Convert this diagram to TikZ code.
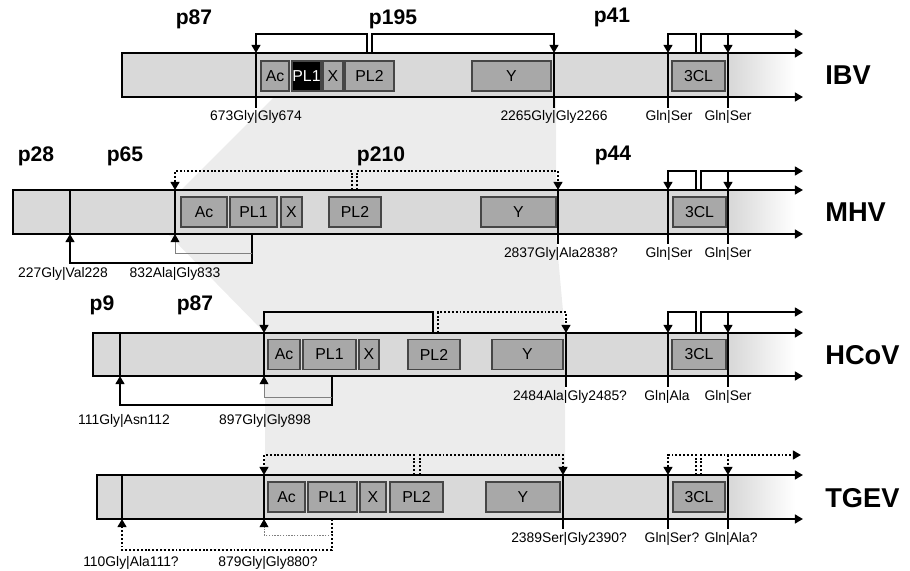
\documentclass[tikz,border=0pt]{standalone}
\usepackage{fontspec}
\setmainfont{Liberation Sans}
\usetikzlibrary{arrows.meta}
\definecolor{barfill}{RGB}{217,217,217}
\definecolor{bandfill}{RGB}{236,236,236}
\definecolor{domfill}{RGB}{168,168,168}
\definecolor{domline}{RGB}{70,70,70}
\begin{document}
\begin{tikzpicture}[
    x=0.02cm, y=-0.02cm,
    >={Triangle[length=4.6pt,width=5pt]},
    bar/.style={line width=1.4pt},
    cut/.style={line width=1.3pt},
    brk/.style={line width=1.1pt},
    dbrk/.style={line width=1.1pt, dash pattern=on 1.1pt off 1.1pt},
    thin/.style={line width=0.5pt, draw=black!50},
    thinarr/.style={-{Triangle[length=4.6pt,width=5pt,color=black]}},
    dom/.style={
        rectangle, draw=domline, fill=domfill, line width=0.8pt,
        minimum height=6mm, inner sep=0pt,
        font=\fontsize{9}{10}\selectfont
    },
    site/.style={
        anchor=base, inner xsep=0pt, inner ysep=1pt,
        text height=6pt, text depth=1.7pt,
        font=\fontsize{7.9}{9}\selectfont
    },
    prot/.style={font=\fontsize{12}{14}\selectfont\bfseries, inner sep=0pt},
    virus/.style={anchor=west, font=\fontsize{15.5}{18}\selectfont\bfseries, inner sep=0pt},
]
\useasboundingbox (0,0) rectangle (910,571);

% ── Shared region band ───────────────────────────────────────
\fill[bandfill] (274,97) -- (556,97) -- (556,234) -- (565,333) -- (565,475)
    -- (265,475) -- (265,333) -- (168,234) -- (181,190) -- cycle;

% ── Bars ─────────────────────────────────────────────────────
\fill[barfill] (122,53) rectangle (732,97);
\shade[left color=barfill, right color=white] (732,53) rectangle (795,97);
\fill[barfill] (13,190) rectangle (732,234);
\shade[left color=barfill, right color=white] (732,190) rectangle (795,234);
\fill[barfill] (93,333) rectangle (732,376);
\shade[left color=barfill, right color=white] (732,333) rectangle (795,376);
\fill[barfill] (97,475) rectangle (732,519);
\shade[left color=barfill, right color=white] (732,475) rectangle (795,519);

% ── IBV ──────────────────────────────────────────────────────
\coordinate (ibvTL) at (122,53);  \coordinate (ibvBL) at (122,97);
\coordinate (ibvTE) at (803,53);  \coordinate (ibvBE) at (803,97);
\coordinate (ibvUp) at (0,34);    \coordinate (ibvUE) at (803,34);
\coordinate (ibvS1) at (256,53);  \coordinate (ibvS2) at (554,53);
\coordinate (ibvS3) at (668,53);  \coordinate (ibvS4) at (728,53);
\coordinate (ibvK1) at (367,53);  \coordinate (ibvK2) at (372,53);
\coordinate (ibvK3) at (696,53);  \coordinate (ibvK4) at (701,53);

\draw[bar,<->] (ibvTE) -- (ibvTL) -- (ibvBL) -- (ibvBE);

\node[dom, minimum width=5.6mm]  (ibvAc)  at (275,76)   {Ac};
\node[dom, minimum width=5.8mm, fill=black, text=white] (ibvPL1) at (306.5,76) {PL1};
\node[dom, minimum width=4mm]    (ibvX)   at (333,76)   {X};
\node[dom, minimum width=9.8mm]  (ibvPL2) at (369.5,76) {PL2};
\node[dom, minimum width=15.8mm] (ibvY)   at (511.5,76) {Y};
\node[dom, minimum width=10.6mm] (ibv3CL) at (698.5,76) {3CL};

\node[site] (ibvL1) at (256,121) {673Gly|Gly674};
\node[site] (ibvL2) at (554,121) {2265Gly|Gly2266};
\node[site] (ibvL3) at (669,121) {Gln|Ser};
\node[site] (ibvL4) at (728,121) {Gln|Ser};

\draw[cut] (ibvS1) -- (ibvS1 |- ibvL1.north);
\draw[cut] (ibvS2) -- (ibvS2 |- ibvL2.north);
\draw[cut] (ibvS3) -- (ibvS3 |- ibvL3.north);
\draw[cut] (ibvS4) -- (ibvS4 |- ibvL4.north);

\draw[brk,->] (ibvK1) -- (ibvK1 |- ibvUp) -| (ibvS1);
\draw[brk,->] (ibvK2) -- (ibvK2 |- ibvUp) -| (ibvS2);
\draw[brk,->] (ibvK3) -- (ibvK3 |- ibvUp) -| (ibvS3);
\draw[brk,->] (ibvK4) -- (ibvK4 |- ibvUp) -- (ibvUE);
\draw[brk,->] (ibvS4 |- ibvUp) -- (ibvS4);

\node[prot] (ibvP87)  at (194,19) {p87};
\node[prot] (ibvP195) at (393,19) {p195};
\node[prot] (ibvP41)  at (612,17) {p41};
\node[virus] (ibvName) at (825,75) {IBV};

% ── MHV ──────────────────────────────────────────────────────
\coordinate (mhvTL) at (13,190);  \coordinate (mhvBL) at (13,234);
\coordinate (mhvTE) at (803,190); \coordinate (mhvBE) at (803,234);
\coordinate (mhvUp) at (0,171);   \coordinate (mhvUE) at (803,171);
\coordinate (mhvS1) at (70,190);  \coordinate (mhvS2) at (175,190);
\coordinate (mhvS3) at (558,190); \coordinate (mhvS4) at (668,190);
\coordinate (mhvS5) at (728,190);
\coordinate (mhvK1) at (352,190); \coordinate (mhvK2) at (357,190);
\coordinate (mhvK3) at (696,190); \coordinate (mhvK4) at (701,190);
\coordinate (mhvB1) at (70,234);  \coordinate (mhvB2) at (175,234);
\coordinate (mhvPL) at (252,234);
\coordinate (mhvDn) at (0,263);   \coordinate (mhvDt) at (0,253);

\draw[bar,<->] (mhvTE) -- (mhvTL) -- (mhvBL) -- (mhvBE);

\node[dom, minimum width=9.2mm]  (mhvAc)  at (204,212)   {Ac};
\node[dom, minimum width=9.4mm]  (mhvPL1) at (253.5,212) {PL1};
\node[dom, minimum width=4.2mm]  (mhvX)   at (291.5,212) {X};
\node[dom, minimum width=10.4mm] (mhvPL2) at (355,212)   {PL2};
\node[dom, minimum width=15mm]   (mhvY)   at (518.5,212) {Y};
\node[dom, minimum width=10.6mm] (mhv3CL) at (699.5,212) {3CL};

\node[site] (mhvL1) at (63,277)  {227Gly|Val228};
\node[site] (mhvL2) at (175,277) {832Ala|Gly833};
\node[site] (mhvL3) at (561,257) {2837Gly|Ala2838?};
\node[site] (mhvL4) at (669,257) {Gln|Ser};
\node[site] (mhvL5) at (728,257) {Gln|Ser};

\draw[cut] (mhvS1) -- (mhvB1);
\draw[cut] (mhvS2) -- (mhvB2);
\draw[cut] (mhvS3) -- (mhvS3 |- mhvL3.north);
\draw[cut] (mhvS4) -- (mhvS4 |- mhvL4.north);
\draw[cut] (mhvS5) -- (mhvS5 |- mhvL5.north);

\draw[dbrk,->] (mhvK1) -- (mhvK1 |- mhvUp) -| (mhvS2);
\draw[dbrk,->] (mhvK2) -- (mhvK2 |- mhvUp) -| (mhvS3);
\draw[brk,->] (mhvK3) -- (mhvK3 |- mhvUp) -| (mhvS4);
\draw[brk,->] (mhvK4) -- (mhvK4 |- mhvUp) -- (mhvUE);
\draw[brk,->] (mhvS5 |- mhvUp) -- (mhvS5);

\draw[brk,->] (mhvPL) -- (mhvPL |- mhvDn) -| (mhvB1);
\draw[thin,thinarr] (mhvPL |- mhvDt) -| (mhvB2);

\node[prot] (mhvP28)  at (36,156)  {p28};
\node[prot] (mhvP65)  at (125,156) {p65};
\node[prot] (mhvP210) at (381,156) {p210};
\node[prot] (mhvP44)  at (613,155) {p44};
\node[virus] (mhvName) at (825,212) {MHV};

% ── HCoV ─────────────────────────────────────────────────────
\coordinate (hcovTL) at (93,333);  \coordinate (hcovBL) at (93,376);
\coordinate (hcovTE) at (803,333); \coordinate (hcovBE) at (803,376);
\coordinate (hcovUp) at (0,312);   \coordinate (hcovUE) at (803,312);
\coordinate (hcovS1) at (120,333); \coordinate (hcovS2) at (264,333);
\coordinate (hcovS3) at (566,333); \coordinate (hcovS4) at (668,333);
\coordinate (hcovS5) at (728,333);
\coordinate (hcovK1) at (433,333); \coordinate (hcovK2) at (438,333);
\coordinate (hcovK3) at (696,333); \coordinate (hcovK4) at (701,333);
\coordinate (hcovB1) at (120,376); \coordinate (hcovB2) at (264,376);
\coordinate (hcovPL) at (332,376);
\coordinate (hcovDn) at (0,405);   \coordinate (hcovDt) at (0,397);

\draw[bar,<->] (hcovTE) -- (hcovTL) -- (hcovBL) -- (hcovBE);

\node[dom, minimum width=6.4mm]  (hcovAc)  at (284,354.5)   {Ac};
\node[dom, minimum width=10.6mm] (hcovPL1) at (329.5,354.5) {PL1};
\node[dom, minimum width=4mm]    (hcovX)   at (369,354.5)   {X};
\node[dom, minimum width=10.4mm] (hcovPL2) at (434,354.5)   {PL2};
\node[dom, minimum width=14.2mm] (hcovY)   at (527.5,354.5) {Y};
\node[dom, minimum width=10.8mm] (hcov3CL) at (699,354.5)   {3CL};

\node[site] (hcovL1) at (124,424) {111Gly|Asn112};
\node[site] (hcovL2) at (265,424) {897Gly|Gly898};
\node[site] (hcovL3) at (570,400) {2484Ala|Gly2485?};
\node[site] (hcovL4) at (667,400) {Gln|Ala};
\node[site] (hcovL5) at (728,400) {Gln|Ser};

\draw[cut] (hcovS1) -- (hcovB1);
\draw[cut] (hcovS2) -- (hcovB2);
\draw[cut] (hcovS3) -- (hcovS3 |- hcovL3.north);
\draw[cut] (hcovS4) -- (hcovS4 |- hcovL4.north);
\draw[cut] (hcovS5) -- (hcovS5 |- hcovL5.north);

\draw[brk,->] (hcovK1) -- (hcovK1 |- hcovUp) -| (hcovS2);
\draw[dbrk,->] (hcovK2) -- (hcovK2 |- hcovUp) -| (hcovS3);
\draw[brk,->] (hcovK3) -- (hcovK3 |- hcovUp) -| (hcovS4);
\draw[brk,->] (hcovK4) -- (hcovK4 |- hcovUp) -- (hcovUE);
\draw[brk,->] (hcovS5 |- hcovUp) -- (hcovS5);

\draw[brk,->] (hcovPL) -- (hcovPL |- hcovDn) -| (hcovB1);
\draw[thin,thinarr] (hcovPL |- hcovDt) -| (hcovB2);

\node[prot] (hcovP9)  at (102,305) {p9};
\node[prot] (hcovP87) at (195,305) {p87};
\node[virus] (hcovName) at (825,355) {HCoV};

% ── TGEV ─────────────────────────────────────────────────────
\coordinate (tgevTL) at (97,475);  \coordinate (tgevBL) at (97,519);
\coordinate (tgevTE) at (803,475); \coordinate (tgevBE) at (803,519);
\coordinate (tgevUp) at (0,455);   \coordinate (tgevUE) at (801,455);
\coordinate (tgevS1) at (122,475); \coordinate (tgevS2) at (264,475);
\coordinate (tgevS3) at (563,475); \coordinate (tgevS4) at (668,475);
\coordinate (tgevS5) at (728,475);
\coordinate (tgevK1) at (414,475); \coordinate (tgevK2) at (420,475);
\coordinate (tgevK3) at (696,475); \coordinate (tgevK4) at (701,475);
\coordinate (tgevB1) at (122,519); \coordinate (tgevB2) at (264,519);
\coordinate (tgevPL) at (332,519);
\coordinate (tgevDn) at (0,550);   \coordinate (tgevDt) at (0,535);

\draw[bar,<->] (tgevTE) -- (tgevTL) -- (tgevBL) -- (tgevBE);

\node[dom, minimum width=7.4mm]  (tgevAc)  at (286.5,497) {Ac};
\node[dom, minimum width=9.8mm]  (tgevPL1) at (332.5,497) {PL1};
\node[dom, minimum width=5.2mm]  (tgevX)   at (373,497)   {X};
\node[dom, minimum width=10.6mm] (tgevPL2) at (416.5,497) {PL2};
\node[dom, minimum width=14.8mm] (tgevY)   at (523,497)   {Y};
\node[dom, minimum width=10.4mm] (tgev3CL) at (699,497)   {3CL};

\node[site] (tgevL1) at (131,566) {110Gly|Ala111?};
\node[site] (tgevL2) at (268,566) {879Gly|Gly880?};
\node[site] (tgevL3) at (569,542) {2389Ser|Gly2390?};
\node[site] (tgevL4) at (672,542) {Gln|Ser?};
\node[site] (tgevL5) at (731,542) {Gln|Ala?};

\draw[cut] (tgevS1) -- (tgevB1);
\draw[cut] (tgevS2) -- (tgevB2);
\draw[cut] (tgevS3) -- (tgevS3 |- tgevL3.north);
\draw[cut] (tgevS4) -- (tgevS4 |- tgevL4.north);
\draw[cut] (tgevS5) -- (tgevS5 |- tgevL5.north);

\draw[dbrk,->] (tgevK1) -- (tgevK1 |- tgevUp) -| (tgevS2);
\draw[dbrk,->] (tgevK2) -- (tgevK2 |- tgevUp) -| (tgevS3);
\draw[dbrk,->] (tgevK3) -- (tgevK3 |- tgevUp) -| (tgevS4);
\draw[dbrk,->] (tgevK4) -- (tgevK4 |- tgevUp) -- (tgevUE);
\draw[dbrk,->] (tgevS5 |- tgevUp) -- (tgevS5);

\draw[dbrk,->] (tgevPL) -- (tgevPL |- tgevDn) -| (tgevB1);
\draw[thin,thinarr,dash pattern=on 0.8pt off 0.8pt] (tgevPL |- tgevDt) -| (tgevB2);

\node[virus] (tgevName) at (825,498) {TGEV};

\end{tikzpicture}
\end{document}
